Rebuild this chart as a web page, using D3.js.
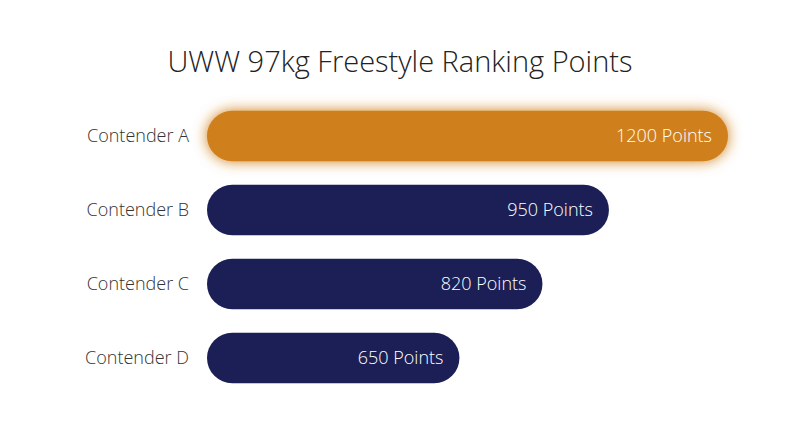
<!DOCTYPE html>
<html><head><meta charset="utf-8">
<script src="https://cdn.jsdelivr.net/npm/d3@7"></script>
<style>body{margin:0;background:#fff}</style></head>
<body><svg id="c" width="800" height="447"></svg>
<script>
const categories=["Contender A","Contender B","Contender C","Contender D"];
const points=[1200,950,820,650];
const highlight=["Contender A"];
const svg=d3.select("#c");
const defs=svg.append("defs");
const f=defs.append("filter").attr("id","glow").attr("x","-20%").attr("y","-60%").attr("width","140%").attr("height","220%");
f.append("feGaussianBlur").attr("in","SourceGraphic").attr("stdDeviation",7).attr("result","b");
const m=f.append("feMerge");m.append("feMergeNode").attr("in","b");m.append("feMergeNode").attr("in","SourceGraphic");
svg.append("text").attr("x",400).attr("y",72).attr("text-anchor","middle")
 .attr("font-family","'Open Sans', sans-serif").attr("font-size",29).attr("font-weight",300).attr("fill","#222").text("UWW 97kg Freestyle Ranking Points");
const x=d3.scaleLinear().domain([133,1200]).range([207,728]);
const y=d3.scaleBand().domain(categories).range([99,395]).paddingInner(0.32).paddingOuter(0.16);
const g=svg.selectAll("g.bar").data(categories).join("g");
g.append("rect").attr("x",x(133)).attr("y",d=>y(d)).attr("height",y.bandwidth())
 .attr("width",(d,i)=>x(points[i])-x(133)+(i==1?3:0)).attr("rx",y.bandwidth()/2)
 .attr("fill",d=>highlight.includes(d)?"#cf7f1a":"#1b1f55")
 .attr("filter",d=>highlight.includes(d)?"url(#glow)":null);
g.append("text").attr("x",(d,i)=>x(points[i])+(i==1?3:0)-16).attr("y",d=>y(d)+y.bandwidth()/2).attr("dy","0.35em")
 .attr("text-anchor","end").attr("fill","#fff").attr("font-family","'Open Sans', sans-serif").attr("font-weight",300).attr("font-size",18)
 .text((d,i)=>points[i]+" Points");
g.append("text").attr("x",189).attr("y",d=>y(d)+y.bandwidth()/2).attr("dy","0.35em")
 .attr("text-anchor","end").attr("fill","#333").attr("font-family","'Open Sans', sans-serif").attr("font-weight",300).attr("font-size",18).text(d=>d);
</script></body></html>
